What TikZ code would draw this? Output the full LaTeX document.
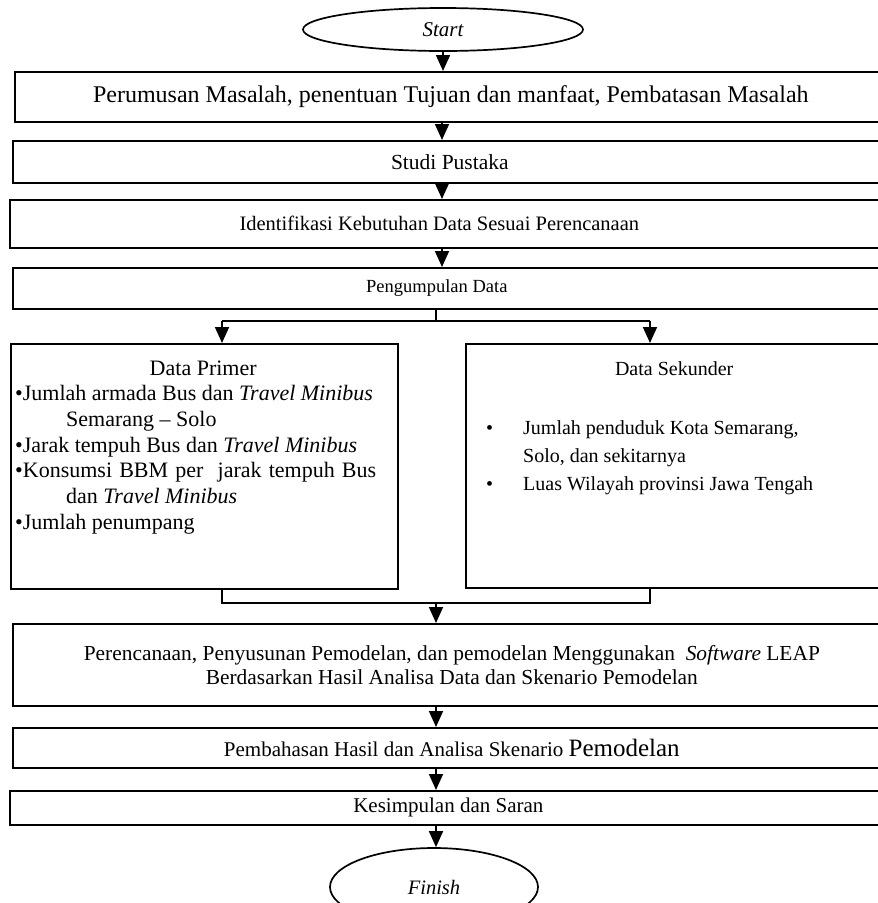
\documentclass[tikz,border=0pt]{standalone}
\usepackage{fontspec}
\setmainfont{Liberation Serif}
\usetikzlibrary{arrows.meta,shapes.geometric}
\tikzset{
  box/.style={draw, line width=1.7pt, rectangle, inner sep=0pt, anchor=north west, align=center},
  term/.style={draw, ellipse, line width=1.7pt, inner sep=0pt},
  arr/.style={line width=1.7pt, -{Triangle[width=14pt,length=16pt]}},
  ln/.style={line width=1.7pt},
}
\begin{document}
\begin{tikzpicture}[x=1pt,y=-1pt]
\useasboundingbox (0,0) rectangle (878,903);
% terminals
\node[term, minimum width=280pt, minimum height=43pt, font=\fontsize{21}{24}\selectfont\itshape] (start) at (443,29.5) {Start};
\node[term, minimum width=208pt, minimum height=78pt, font=\fontsize{20.5}{24}\selectfont\itshape] (finish) at (434,887) {Finish};
% boxes
\node[box, minimum width=876pt, minimum height=50pt, font=\fontsize{24}{28}\selectfont] (b1) at (14,71) {\hspace*{-4pt}Perumusan Masalah, penentuan Tujuan dan manfaat, Pembatasan Masalah};
\node[box, minimum width=878pt, minimum height=42pt, font=\fontsize{21.5}{25}\selectfont] (b2) at (12,140) {\hspace*{-4pt}Studi Pustaka};
\node[box, minimum width=881pt, minimum height=48pt, font=\fontsize{20.5}{24}\selectfont] (b3) at (9,199) {\hspace*{-22pt}Identifikasi Kebutuhan Data Sesuai Perencanaan};
\node[box, minimum width=878pt, minimum height=41pt, font=\fontsize{18.5}{22}\selectfont] (b4) at (12,267) {\hspace*{-30pt}Pengumpulan Data};
\node[box, minimum width=387pt, minimum height=245pt] (prim) at (10,343) {};
\node[box, minimum width=425pt, minimum height=244pt] (sek) at (465,343) {};
\node[box, minimum width=878pt, minimum height=82pt, font=\fontsize{21.4}{24}\selectfont] (b5) at (12,623) {Perencanaan, Penyusunan Pemodelan, dan pemodelan Menggunakan\ \ \textit{Software} LEAP\\Berdasarkan Hasil Analisa Data dan Skenario Pemodelan};
\node[box, minimum width=878pt, minimum height=40pt, font=\fontsize{21}{24}\selectfont] (b6) at (12,727) {Pembahasan Hasil dan Analisa Skenario {\fontsize{25}{28}\selectfont Pemodelan}};
\node[box, minimum width=881pt, minimum height=34pt, font=\fontsize{21}{24}\selectfont] (b7) at (9,790) {\hspace*{-4pt}Kesimpulan dan Saran};
% box texts (lists)
\node[anchor=base west, inner sep=0pt] (primtext) at (15,375) {\parbox[t]{376pt}{\fontsize{22}{25.7}\selectfont
\centering Data Primer\par
\raggedright
\textbullet Jumlah armada Bus dan \textit{Travel Minibus}\\
\hspace*{51pt}Semarang – Solo\\
\textbullet Jarak tempuh Bus dan \textit{Travel Minibus}\\
\makebox[361pt][s]{\textbullet Konsumsi BBM per\ \ jarak tempuh Bus}\\
\hspace*{51pt}dan \textit{Travel Minibus}\\
\textbullet Jumlah penumpang}};
\node[anchor=base west, inner sep=0pt] (sektext) at (486,375) {\parbox[t]{376pt}{\fontsize{20}{28}\selectfont
\centering Data Sekunder\par\vspace{31pt}
\raggedright
\makebox[37pt][l]{\textbullet}Jumlah penduduk Kota Semarang,\\
\hspace*{37pt}Solo, dan sekitarnya\\
\makebox[37pt][l]{\textbullet}Luas Wilayah provinsi Jawa Tengah}};
% connector helpers
\coordinate (ax) at (442,0);
\coordinate (bx) at (436,0);
\coordinate (sp) at (436,321);
\coordinate (pl) at (222,321);
\coordinate (pr) at (650,321);
\coordinate (ml) at (222,603);
\coordinate (mr) at (650,603);
% connectors
\draw[arr] (start.south) -- (b1.north -| start.south);
\draw[arr] (b1.south -| ax) -- (b2.north -| ax);
\draw[arr] (b2.south -| ax) -- (b3.north -| ax);
\draw[arr] (b3.south -| ax) -- (b4.north -| ax);
\draw[ln] (b4.south -| sp) -- (sp);
\draw[ln] (pl) -- (pr);
\draw[arr] (pl) -- (prim.north -| pl);
\draw[arr] (pr) -- (sek.north -| pr);
\draw[ln] (prim.south -| ml) -- (ml) -- (mr) -- (sek.south -| mr);
\draw[arr] (ml -| bx) -- (b5.north -| bx);
\draw[arr] (b5.south -| bx) -- (b6.north -| bx);
\draw[arr] (b6.south -| bx) -- (b7.north -| bx);
\draw[arr] (b7.south -| bx) -- (finish.north -| bx);
\end{tikzpicture}
\end{document}
